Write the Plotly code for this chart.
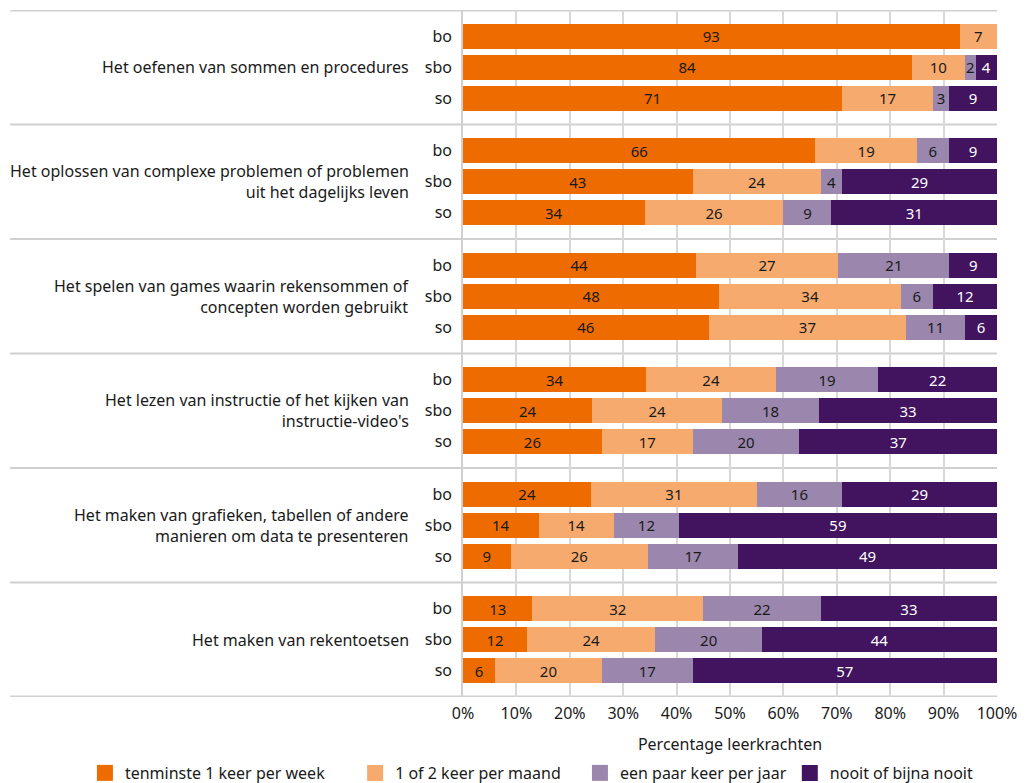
import plotly.graph_objects as go

groups = [
    "Het oefenen van sommen en procedures",
    "Het oplossen van complexe problemen of problemen<br>uit het dagelijks leven",
    "Het spelen van games waarin rekensommen of<br>concepten worden gebruikt",
    "Het lezen van instructie of het kijken van<br>instructie-video's",
    "Het maken van grafieken, tabellen of andere<br>manieren om data te presenteren",
    "Het maken van rekentoetsen",
]
subgroups = ["bo", "sbo", "so"]

series_names = [
    "tenminste 1 keer per week",
    "1 of 2 keer per maand",
    "een paar keer per jaar",
    "nooit of bijna nooit",
]
week = [93, 84, 71, 66, 43, 34, 44, 48, 46, 34, 24, 26, 24, 14, 9, 13, 12, 6]
maand = [7, 10, 17, 19, 24, 26, 27, 34, 37, 24, 24, 17, 31, 14, 26, 32, 24, 20]
jaar = [0, 2, 3, 6, 4, 9, 21, 6, 11, 19, 18, 20, 16, 12, 17, 22, 20, 17]
nooit = [0, 4, 9, 9, 29, 31, 9, 12, 6, 22, 33, 37, 29, 59, 49, 33, 44, 57]

x_ticks = [0, 10, 20, 30, 40, 50, 60, 70, 80, 90, 100]
x_ticklabels = ["0%", "10%", "20%", "30%", "40%", "50%", "60%", "70%", "80%", "90%", "100%"]

colors = ["#EE6B00", "#F6AA6E", "#9B86AE", "#42145F"]
text_colors = ["#1a1a1a", "#1a1a1a", "#1a1a1a", "#ffffff"]
legend_x = [-0.708, -0.202, 0.219, 0.612]

FONT = "Noto Sans"
TXT = "#1a1a1a"
FS = 16
G = 3.7          # height of one group in axis units
OFF = 0.85       # centre of first bar inside a group

ypos = []
yticktext = []
for gi in range(len(groups)):
    for si, s in enumerate(subgroups):
        ypos.append(gi * G + OFF + si)
        yticktext.append(s)

fig = go.Figure()
for name, vals, col, tcol in zip(series_names, [week, maand, jaar, nooit], colors, text_colors):
    fig.add_trace(go.Bar(
        x=vals,
        y=ypos,
        orientation="h",
        name=name,
        marker=dict(color=col, line=dict(width=0)),
        width=0.8,
        text=[str(v) if v else "" for v in vals],
        texttemplate="%{text}",
        textposition="inside",
        insidetextanchor="middle",
        textangle=0,
        constraintext="none",
        textfont=dict(family=FONT, size=15, color=tcol),
        hoverinfo="skip",
        showlegend=False,
    ))

# legend entries (one legend per category so they can be placed like the original)
for i, (name, col) in enumerate(zip(series_names, colors)):
    fig.add_trace(go.Scatter(
        x=[None], y=[None], mode="markers", name=name,
        marker=dict(symbol="square", size=16, color=col),
        legend="legend" if i == 0 else f"legend{i + 1}",
        showlegend=True, hoverinfo="skip",
    ))

total = G * len(groups)
line_col = "#d0d0d0"
shapes = []
for gi in range(len(groups) + 1):
    shapes.append(dict(
        type="line", xref="paper", yref="y",
        x0=-0.848, x1=1.0, y0=gi * G, y1=gi * G,
        line=dict(color=line_col, width=3 if gi in (0, len(groups)) else 2),
        layer="below",
    ))

annotations = []
for gi, g in enumerate(groups):
    annotations.append(dict(
        text=g, xref="paper", yref="y",
        x=-0.097, y=gi * G + G / 2,
        xanchor="right", yanchor="middle", align="right",
        showarrow=False,
        font=dict(family=FONT, size=FS, color=TXT),
    ))

legend_common = dict(
    orientation="h", xanchor="left",
    yref="container", y=0.023, yanchor="middle",
    font=dict(family=FONT, size=FS, color=TXT),
    bgcolor="rgba(0,0,0,0)",
    itemclick=False, itemdoubleclick=False,
)
legends = {}
for i, lx in enumerate(legend_x):
    key = "legend" if i == 0 else f"legend{i + 1}"
    legends[key] = dict(legend_common, x=lx)

fig.update_layout(
    width=1029, height=783,
    margin=dict(l=455, r=40, t=2, b=94),
    barmode="stack",
    barnorm="percent",
    paper_bgcolor="white",
    plot_bgcolor="white",
    font=dict(family=FONT, size=FS, color=TXT),
    shapes=shapes,
    annotations=annotations,
    showlegend=True,
    **legends,
)

fig.update_xaxes(
    range=[0, 100],
    tickmode="array",
    tickvals=x_ticks,
    ticktext=x_ticklabels,
    showgrid=True, gridcolor="#d9d9d9", gridwidth=1.5,
    zeroline=False, showline=False,
    ticks="",
    ticklabelstandoff=5,
    tickfont=dict(family=FONT, size=FS, color=TXT),
    title=dict(text="Percentage leerkrachten", standoff=15,
               font=dict(family=FONT, size=FS, color=TXT)),
)
fig.update_yaxes(
    range=[total, 0],
    tickmode="array",
    tickvals=ypos,
    ticktext=yticktext,
    showgrid=False, zeroline=False,
    showline=True, linecolor="#d0d0d0", linewidth=1.5,
    ticks="",
    ticklabelstandoff=6,
    tickfont=dict(family=FONT, size=FS, color=TXT),
)

fig.write_html("out.html")
